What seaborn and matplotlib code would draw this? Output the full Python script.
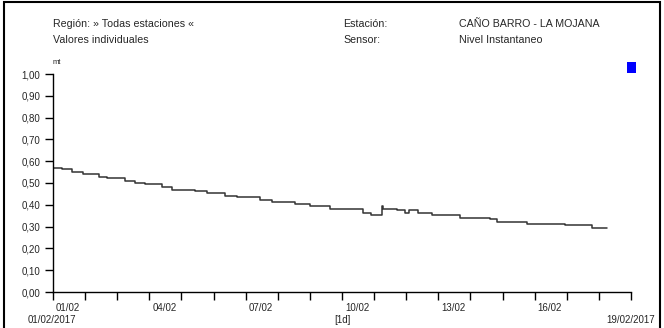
import pandas as pd
import seaborn as sns
import matplotlib.pyplot as plt
import matplotlib.dates as mdates
import matplotlib.ticker as mticker
from matplotlib.transforms import ScaledTranslation
from matplotlib.patches import Rectangle

# --- data (step changes of the water level) ---
step_times = [
    "2017-02-01 00:00", "2017-02-01 06:30", "2017-02-01 14:00", "2017-02-01 22:30",
    "2017-02-02 10:30", "2017-02-02 16:30", "2017-02-03 05:45", "2017-02-03 13:15",
    "2017-02-03 21:00", "2017-02-04 09:30", "2017-02-04 16:45", "2017-02-05 10:00",
    "2017-02-05 19:00", "2017-02-06 08:30", "2017-02-06 17:15", "2017-02-07 10:45",
    "2017-02-07 19:30", "2017-02-08 13:00", "2017-02-09 00:00", "2017-02-09 15:00",
    "2017-02-10 16:00", "2017-02-10 21:30", "2017-02-11 06:15", "2017-02-11 07:00",
    "2017-02-11 17:00", "2017-02-11 23:15", "2017-02-12 01:45", "2017-02-12 08:30",
    "2017-02-12 19:15", "2017-02-13 16:15", "2017-02-14 14:30", "2017-02-14 19:45",
    "2017-02-15 18:15", "2017-02-16 22:45", "2017-02-17 18:45", "2017-02-18 06:00",
]
level_mt = [
    0.570, 0.564, 0.552, 0.543,
    0.529, 0.523, 0.511, 0.501,
    0.495, 0.482, 0.469, 0.464,
    0.454, 0.442, 0.436, 0.423,
    0.411, 0.404, 0.393, 0.380,
    0.364, 0.353, 0.396, 0.382,
    0.376, 0.364, 0.378, 0.364,
    0.355, 0.339, 0.333, 0.323,
    0.313, 0.306, 0.294, 0.294,
]
label_days = ["2017-02-01", "2017-02-04", "2017-02-07", "2017-02-10", "2017-02-13", "2017-02-16"]
label_texts = ["01/02", "04/02", "07/02", "10/02", "13/02", "16/02"]
y_ticks = [0.0, 0.1, 0.2, 0.3, 0.4, 0.5, 0.6, 0.7, 0.8, 0.9, 1.0]

df = pd.DataFrame({"time": pd.to_datetime(step_times), "level": level_mt})

sns.set_style("white")
plt.rcParams['font.family'] = ['Liberation Sans', 'DejaVu Sans']

W, H = 664, 328
fig = plt.figure(figsize=(W / 100, H / 100), dpi=100)

def px(x, y):
    # pixel (from top-left) -> figure fraction
    return x / W, 1 - y / H

# axes placed so 0,00 sits at y=292, 1,00 at y=74, x from 53 to 631
ax = fig.add_axes([53 / W, (H - 292) / H, (631 - 53) / W, (292 - 74) / H])

sns.lineplot(data=df, x="time", y="level", ax=ax, estimator=None,
             drawstyle="steps-post", color="#333333", linewidth=1.1)

ax.set_xlim(pd.Timestamp("2017-02-01"), pd.Timestamp("2017-02-19"))
ax.set_ylim(0, 1.0)
ax.set_xlabel("")
ax.set_ylabel("")

for s in ["top", "right"]:
    ax.spines[s].set_visible(False)
for s in ["left", "bottom"]:
    ax.spines[s].set_color("black")
    ax.spines[s].set_linewidth(1.0)

ax.set_yticks(y_ticks)
ax.yaxis.set_major_formatter(mticker.FuncFormatter(lambda v, p: f"{v:.2f}".replace(".", ",")))
ax.set_xticks(pd.to_datetime(label_days))
ax.set_xticklabels(label_texts)
ax.xaxis.set_minor_locator(mdates.DayLocator())
ax.tick_params(axis="both", which="both", direction="out", length=6, width=1.0,
               color="black", labelsize=7, bottom=True, left=True)
ax.tick_params(axis="x", pad=2)
ax.tick_params(axis="y", pad=3)
ax.grid(False)

offset = ScaledTranslation(3 / 100, 0, fig.dpi_scale_trans)
for lab in ax.get_xticklabels():
    lab.set_horizontalalignment("left")
    lab.set_transform(lab.get_transform() + offset)

# header texts
fs = 7.7
fig.text(*px(53, 24), "Región: » Todas estaciones «", fontsize=fs, va="center")
fig.text(*px(53, 40), "Valores individuales", fontsize=fs, va="center")
fig.text(*px(343, 24), "Estación:", fontsize=fs, va="center")
fig.text(*px(343, 40), "Sensor:", fontsize=fs, va="center")
fig.text(*px(459, 24), "CAÑO BARRO - LA MOJANA", fontsize=fs, va="center")
fig.text(*px(459, 40), "Nivel Instantaneo", fontsize=fs, va="center")
fig.text(*px(53, 63), "mt", fontsize=5.5, va="center")

# bottom texts
fig.text(*px(52, 320), "01/02/2017", fontsize=7, ha="center", va="center")
fig.text(*px(342, 320), "[1d]", fontsize=7, ha="center", va="center")
fig.text(*px(631, 320), "19/02/2017", fontsize=7, ha="center", va="center")

# legend marker (blue square)
fig.patches.append(Rectangle(px(627, 73), 9 / W, 11 / H, transform=fig.transFigure,
                             facecolor="#0000ff", edgecolor="none"))

# outer frame
fig.patches.append(Rectangle((4 / W, -0.05), (660 - 4) / W, 1.05 - 2 / H,
                             transform=fig.transFigure, fill=False,
                             edgecolor="black", linewidth=1.5))

fig.savefig("out.png", dpi=100)
